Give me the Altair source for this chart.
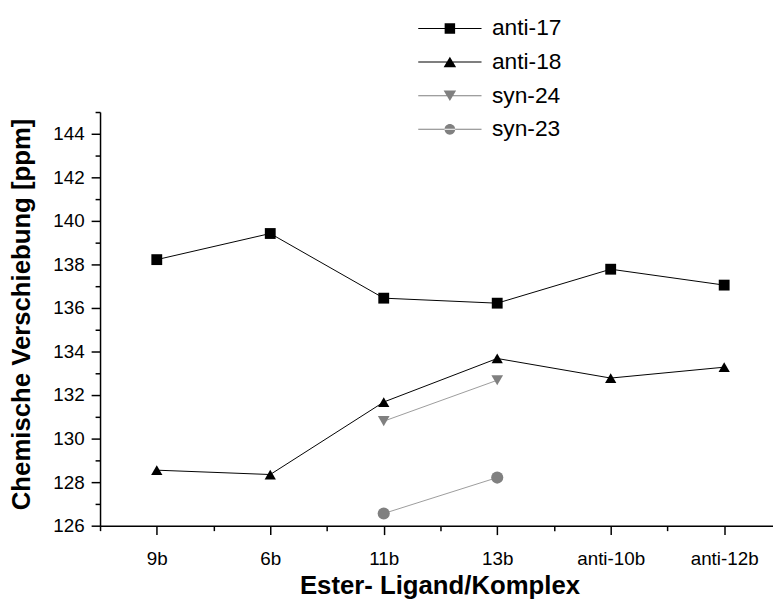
import json
import altair as alt
import pandas as pd

# ---- data ----
categories = ["9b", "6b", "11b", "13b", "anti-10b", "anti-12b"]
series_names = ["anti-17", "anti-18", "syn-24", "syn-23"]
anti_17 = [138.22, 139.42, 136.45, 136.22, 137.78, 137.05]
anti_18 = [128.55, 128.35, 131.68, 133.68, 132.78, 133.28]
syn_24 = [None, None, 130.80, 132.68, None, None]
syn_23 = [None, None, 126.56, 128.21, None, None]
y_tick_values = list(range(126, 146))
x_tick_values = [i * 0.5 - 0.5 for i in range(13)]

# ---- styles ----
marker_colors = ["#000000", "#000000", "#808080", "#808080"]
line_colors = ["#000000", "#000000", "#9c9c9c", "#9c9c9c"]
plot_shapes = ["square", "triangle-up", "triangle-down", "circle"]
plot_sizes = [120, 150, 150, 110]
# legend symbols: marker plus line stubs (unit = sqrt(size)/2 px)
stub = "M-2.78,-0.045H2.78V0.045H-2.78Z "
legend_paths = [
    stub + "M-0.46,-0.46H0.46V0.46H-0.46Z",
    stub + "M0,-0.46L0.55,0.46H-0.55Z",
    stub + "M-0.55,-0.46H0.55L0,0.46Z",
    stub + "M-0.47,0A0.47,0.47,0,1,0,0.47,0A0.47,0.47,0,1,0,-0.47,0Z",
]

rows = []
for name, vals in zip(series_names, [anti_17, anti_18, syn_24, syn_23]):
    for i, (cat, v) in enumerate(zip(categories, vals)):
        if v is not None:
            rows.append({"series": name, "ligand": cat, "pos": i, "shift": v})
df = pd.DataFrame(rows)

FONT = "Liberation Sans"
LABEL_SIZE = 19

x_enc = alt.X(
    "pos:Q",
    scale=alt.Scale(domain=[-0.5, 5.5], nice=False, zero=False),
    axis=alt.Axis(
        values=x_tick_values,
        labelExpr="datum.value % 1 === 0 ? " + json.dumps(categories) + "[datum.value] : ''",
        tickSize=9,
        tickDash={"condition": {"test": "datum.value % 1 !== 0", "value": [5, 40]}, "value": []},
        labelPadding=15,
        labelFont=FONT,
        labelFontSize=LABEL_SIZE,
        labelFlush=False,
        labelOverlap=False,
        title="Ester- Ligand/Komplex",
        titleX=343,
        titleY=69,
        titleBaseline="alphabetic",
        titleAlign="center",
    ),
)
y_enc = alt.Y(
    "shift:Q",
    scale=alt.Scale(domain=[126, 145], nice=False, zero=False),
    axis=alt.Axis(
        values=y_tick_values,
        labelExpr="datum.value % 2 === 0 ? datum.label : ''",
        tickSize=9,
        tickDash={"condition": {"test": "datum.value % 2 !== 0", "value": [5, 40]}, "value": []},
        labelPadding=7,
        labelFont=FONT,
        labelFontSize=LABEL_SIZE,
        labelFlush=False,
        labelOverlap=False,
        title="Chemische Verschiebung [ppm]",
        titleX=-71,
        titleY=204,
        titleAngle=270,
        titleBaseline="alphabetic",
        titleAlign="center",
    ),
)

base = alt.Chart(df).encode(x=x_enc, y=y_enc)

lines = base.mark_line(strokeWidth=1).encode(
    stroke=alt.Stroke("series:N", scale=alt.Scale(domain=series_names, range=line_colors), legend=None),
    detail="series:N",
)

points = base.mark_point(filled=True, opacity=1).encode(
    color=alt.Color("series:N", scale=alt.Scale(domain=series_names, range=marker_colors), legend=None),
    shape=alt.Shape("series:N", scale=alt.Scale(domain=series_names, range=plot_shapes), legend=None),
    size=alt.Size("series:N", scale=alt.Scale(domain=series_names, range=plot_sizes), legend=None),
)

legend_props = dict(
    title=None,
    orient="none",
    legendX=322,
    legendY=-96,
    padding=0,
    symbolSize=529,
    symbolStrokeWidth=0,
    symbolOpacity=1,
    symbolOffset=20,
    labelOffset=31,
    labelFont=FONT,
    labelFontSize=23,
    labelColor="#000000",
    rowPadding=10,
)

legend_layer = base.transform_filter("false").mark_point(filled=True, opacity=1).encode(
    color=alt.Color("series:N", scale=alt.Scale(domain=series_names, range=marker_colors),
                    legend=alt.Legend(**legend_props)),
    shape=alt.Shape("series:N", scale=alt.Scale(domain=series_names, range=legend_paths),
                    legend=alt.Legend(**legend_props)),
)

chart = (
    alt.layer(lines, points, legend_layer)
    .resolve_scale(color="independent", shape="independent")
    .properties(
        width=688,
        height=418,
        autosize=alt.AutoSizeParams(type="none"),
        padding={"left": 93, "top": 102, "right": -8, "bottom": 74},
        background="#ffffff",
    )
    .configure_view(stroke=None)
    .configure_axis(
        grid=False,
        domainColor="#000000",
        domainWidth=1.5,
        tickColor="#000000",
        tickWidth=1.5,
        labelColor="#000000",
        titleFont=FONT,
        titleFontSize=26,
        titleFontWeight="bold",
        titleColor="#000000",
    )
)

chart.save("out.html", embed_options={"renderer": "svg", "actions": False})
